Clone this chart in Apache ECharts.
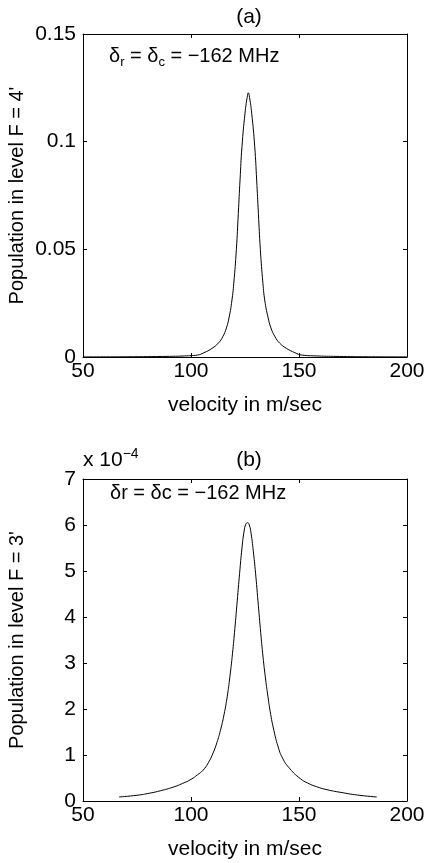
<!DOCTYPE html>
<html>
<head>
<meta charset="utf-8">
<script src="https://cdn.jsdelivr.net/npm/echarts@6/dist/echarts.min.js"></script>
<style>
html,body{margin:0;padding:0;background:#fff;}
#c{width:425px;height:863px;}
</style>
</head>
<body>
<div id="c"></div>
<script>
// Panel (a): velocity (m/s) and population in F = 4'
var topVelocity = [50, 70, 90, 97, 103.0, 106.0, 109.7, 112.7, 114.7, 116.4, 117.7, 118.9, 119.8, 121.0, 121.9, 122.7, 123.6, 125.0, 126.0, 126.55, 127.1, 128.1, 129.5, 130.4, 131.2, 132.1, 133.3, 134.2, 135.6, 137.0, 138.9, 141.0, 144.2, 148.1, 151.3, 158, 166, 182, 200];
var topPopulation = [0.00005, 0.0001, 0.0003, 0.0005, 0.0009, 0.002, 0.004, 0.0065, 0.0094, 0.0135, 0.0187, 0.026, 0.0342, 0.050, 0.0667, 0.0822, 0.0977, 0.1132, 0.1205, 0.1227, 0.1205, 0.1132, 0.0977, 0.0822, 0.0667, 0.050, 0.0342, 0.026, 0.0187, 0.0135, 0.0094, 0.0065, 0.004, 0.002, 0.0009, 0.0005, 0.0003, 0.0001, 0.00005];

// Panel (b): velocity (m/s) and population in F = 3' (units of 1e-4)
var botVelocity = [66.7, 75, 80.9, 86, 91.7, 96, 100, 103, 105.6, 108, 110.2, 112, 113.6, 115.3, 116.8, 118.0, 119.2, 120.3, 121.4, 122.5, 123.6, 124.6, 125.4, 126.2, 127.0, 127.8, 128.8, 129.9, 131.0, 132.1, 133.2, 134.4, 135.6, 136.9, 138.4, 140.2, 142.4, 145.8, 150.5, 154, 158.2, 163, 169, 177, 186];
var botPopulation = [0.087, 0.125, 0.17, 0.225, 0.30, 0.38, 0.47, 0.57, 0.67, 0.83, 1.04, 1.27, 1.53, 1.88, 2.28, 2.70, 3.20, 3.75, 4.35, 4.95, 5.50, 5.87, 6.02, 6.05, 6.00, 5.82, 5.45, 4.95, 4.35, 3.75, 3.20, 2.70, 2.28, 1.88, 1.53, 1.20, 0.93, 0.70, 0.49, 0.39, 0.31, 0.245, 0.19, 0.13, 0.087];

var xTicks = [50, 100, 150, 200];
var topYTicks = [0, 0.05, 0.1, 0.15];
var botYTicks = [0, 1, 2, 3, 4, 5, 6, 7];

function zip(a, b) { return a.map(function (v, i) { return [v, b[i]]; }); }

var FONT = 'Liberation Sans';
var FS = 21;
var black = '#000';

function xAx(grid, pos, show) {
  return {
    type: 'value', gridIndex: grid, position: pos,
    min: xTicks[0], max: xTicks[xTicks.length - 1], interval: 50,
    axisLine: { show: true, onZero: false, lineStyle: { color: black, width: 1 } },
    axisTick: { show: true, inside: true, length: 4, lineStyle: { color: black } },
    axisLabel: { show: show, color: black, fontFamily: FONT, fontSize: FS, margin: 4, hideOverlap: false },
    splitLine: { show: false },
    name: show ? 'velocity in m/sec' : '',
    nameLocation: 'middle', nameGap: 38, nameMoveOverlap: false,
    nameTextStyle: { color: black, fontFamily: FONT, fontSize: 21 }
  };
}
function yAx(grid, pos, show, ticks, name, fmt) {
  return {
    type: 'value', gridIndex: grid, position: pos,
    min: ticks[0], max: ticks[ticks.length - 1], interval: ticks[1] - ticks[0],
    axisLine: { show: true, onZero: false, lineStyle: { color: black, width: 1 } },
    axisTick: { show: true, inside: true, length: 4, lineStyle: { color: black } },
    axisLabel: { show: show, color: black, fontFamily: FONT, fontSize: FS, margin: 7, formatter: fmt },
    splitLine: { show: false },
    name: show ? name : '',
    nameLocation: 'middle', nameGap: 56, nameRotate: 90, nameMoveOverlap: false,
    nameTextStyle: { color: black, fontFamily: FONT, fontSize: 20 }
  };
}

var chart = echarts.init(document.getElementById('c'), null, { renderer: 'canvas' });
chart.setOption({
  backgroundColor: '#fff',
  animation: false,
  title: [
    { text: '(a)', left: 244, top: 2, textAlign: 'center', textStyle: { fontFamily: FONT, fontSize: 21, fontWeight: 'normal', color: black } },
    { text: '(b)', left: 244, top: 445, textAlign: 'center', textStyle: { fontFamily: FONT, fontSize: 21, fontWeight: 'normal', color: black } }
  ],
  grid: [
    { left: 83, top: 34, width: 324, height: 323, containLabel: false, outerBoundsMode: 'none' },
    { left: 83, top: 479, width: 324, height: 322, containLabel: false, outerBoundsMode: 'none' }
  ],
  xAxis: [xAx(0, 'bottom', true), xAx(0, 'top', false), xAx(1, 'bottom', true), xAx(1, 'top', false)],
  yAxis: [
    yAx(0, 'left', true, topYTicks, "Population in level F = 4'", function (v) { return String(+v.toFixed(2)); }),
    yAx(0, 'right', false, topYTicks, ''),
    yAx(1, 'left', true, botYTicks, "Population in level F = 3'", function (v) { return String(v); }),
    yAx(1, 'right', false, botYTicks, '')
  ],
  series: [
    { type: 'line', xAxisIndex: 0, yAxisIndex: 0, data: zip(topVelocity, topPopulation), showSymbol: false, smooth: 0.5, lineStyle: { color: black, width: 1 } },
    { type: 'line', xAxisIndex: 2, yAxisIndex: 2, data: zip(botVelocity, botPopulation), showSymbol: false, smooth: 0.5, lineStyle: { color: black, width: 1 } }
  ],
  graphic: [
    {
      type: 'text', left: 109, top: 44,
      style: {
        text: '{a|δ}{s|r}{a| = δ}{s|c}{a| = −162 MHz}',
        rich: {
          a: { fontFamily: FONT, fontSize: 20, fill: black, lineHeight: 24 },
          s: { fontFamily: FONT, fontSize: 13, fill: black, lineHeight: 24, padding: [12, 0, 0, 0] }
        }
      }
    },
    {
      type: 'text', left: 110, top: 483,
      style: { text: 'δr = δc = −162 MHz', font: '20px "Liberation Sans"', fill: black }
    },
    {
      type: 'text', left: 83, top: 447,
      style: {
        text: '{a|x 10}{p|−4}',
        rich: {
          a: { fontFamily: FONT, fontSize: 21, fill: black, lineHeight: 24 },
          p: { fontFamily: FONT, fontSize: 14, fill: black, lineHeight: 24, padding: [0, 0, 12, 0] }
        }
      }
    }
  ]
});
</script>
</body>
</html>
